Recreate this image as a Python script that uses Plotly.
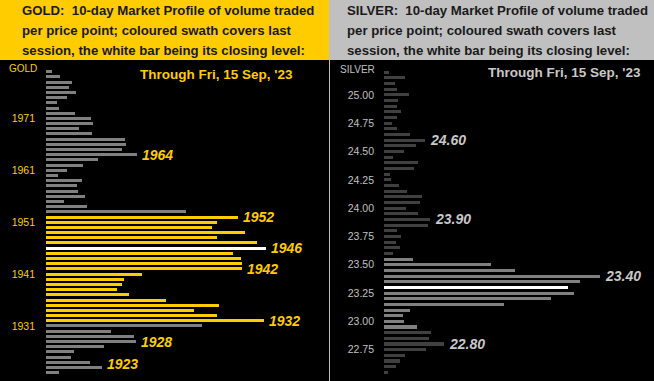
import plotly.graph_objects as go

W, H = 654, 381

# ---------------- data ----------------
gold_prices = [1980, 1979, 1978, 1977, 1976, 1975, 1974, 1973, 1972, 1971,
               1970, 1969, 1968, 1967, 1966, 1965, 1964, 1963, 1962, 1961,
               1960, 1959, 1958, 1957, 1956, 1955, 1954, 1953, 1952, 1951,
               1950, 1949, 1948, 1947, 1946, 1945, 1944, 1943, 1942, 1941,
               1940, 1939, 1938, 1937, 1936, 1935, 1934, 1933, 1932, 1931,
               1930, 1929, 1928, 1927, 1926, 1925, 1924, 1923, 1922]
gold_volume = [6, 14, 26, 23, 30, 21, 11, 13, 29, 45,
               47, 33, 46, 79, 80, 76, 91, 52, 37, 21,
               12, 36, 31, 32, 39, 18, 41, 140, 192, 171,
               166, 199, 171, 211, 220, 187, 195, 196, 196, 96,
               78, 76, 71, 83, 120, 173, 148, 171, 218, 156,
               65, 88, 90, 58, 28, 25, 44, 56, 13]
gold_swath = [1932, 1952]
gold_close = 1946
gold_labels = [1964, 1952, 1946, 1942, 1932, 1928, 1923]
gold_ticks = [1931, 1941, 1951, 1961, 1971]

silver_prices = [25.20, 25.15, 25.10, 25.05, 25.00, 24.95, 24.90, 24.85, 24.80, 24.75,
                 24.70, 24.65, 24.60, 24.55, 24.50, 24.45, 24.40, 24.35, 24.30, 24.25,
                 24.20, 24.15, 24.10, 24.05, 24.00, 23.95, 23.90, 23.85, 23.80, 23.75,
                 23.70, 23.65, 23.60, 23.55, 23.50, 23.45, 23.40, 23.35, 23.30, 23.25,
                 23.20, 23.15, 23.10, 23.05, 23.00, 22.95, 22.90, 22.85, 22.80, 22.75,
                 22.70, 22.65, 22.60, 22.55]
silver_volume = [5, 21, 11, 13, 25, 14, 13, 17, 13, 8,
                 13, 26, 41, 32, 20, 9, 34, 30, 6, 7,
                 15, 23, 38, 36, 22, 34, 46, 44, 13, 17,
                 12, 16, 9, 29, 107, 131, 216, 196, 184, 190,
                 167, 120, 26, 19, 20, 33, 47, 45, 60, 42,
                 21, 16, 12, 4]
silver_swath = [22.95, 23.55]
silver_close = 23.30
silver_labels = [24.60, 23.90, 23.40, 22.80]
silver_ticks = [22.75, 23.00, 23.25, 23.50, 23.75, 24.00, 24.25, 24.50, 24.75, 25.00]

header_gold = ["GOLD:\u00a0 10-day Market Profile of volume traded",
               "per price point; coloured swath covers last",
               "session, the white bar being its closing level:"]
header_silver = ["SILVER:\u00a0 10-day Market Profile of volume traded",
                 "per price point; coloured swath covers last",
                 "session, the white bar being its closing level:"]
through_text = "Through Fri, 15 Sep, '23"

# ---------------- styles ----------------
YELLOW = "#FFCC00"
GREY = "#808080"
DARK = "#404040"
SILVER_HDR = "#C0C0C0"
SILVER_TXT = "#C8C8C8"
FONT = "Liberation Sans, Arial, sans-serif"


def px_x(px):
    return px / W


def px_y(px):
    return 1 - px / H


def colours(prices, swath, close, swath_col, other_col):
    out = []
    for p in prices:
        if abs(p - close) < 1e-9:
            out.append("#FFFFFF")
        elif swath[0] - 1e-9 <= p <= swath[1] + 1e-9:
            out.append(swath_col)
        else:
            out.append(other_col)
    return out


fig = go.Figure()
fig.add_trace(go.Bar(y=gold_prices, x=gold_volume, orientation="h",
                     marker=dict(color=colours(gold_prices, gold_swath, gold_close, YELLOW, GREY),
                                 line=dict(width=0)),
                     width=0.58, xaxis="x", yaxis="y", showlegend=False,
                     hoverinfo="skip"))
fig.add_trace(go.Bar(y=silver_prices, x=silver_volume, orientation="h",
                     marker=dict(color=colours(silver_prices, silver_swath, silver_close, GREY, DARK),
                                 line=dict(width=0)),
                     width=0.027, xaxis="x2", yaxis="y2", showlegend=False,
                     hoverinfo="skip"))

ydom = [px_y(380), px_y(62)]
axis_common = dict(showgrid=False, zeroline=False, showline=False, fixedrange=True)

fig.update_layout(
    width=W, height=H,
    margin=dict(l=0, r=0, t=0, b=0),
    paper_bgcolor="black", plot_bgcolor="black",
    bargap=0,
    xaxis=dict(domain=[px_x(46), px_x(325)], range=[0, 279], showticklabels=False, **axis_common),
    yaxis=dict(domain=ydom, range=[1920.59, 1981.87], tickvals=gold_ticks,
               ticktext=[str(t) for t in gold_ticks], ticks="", ticklabelstandoff=10,
               tickfont=dict(family=FONT, size=10.5, color=YELLOW), anchor="x", **axis_common),
    xaxis2=dict(domain=[px_x(384), px_x(650)], range=[0, 266], showticklabels=False,
                anchor="y2", **axis_common),
    yaxis2=dict(domain=ydom, range=[22.482, 25.291], tickvals=silver_ticks,
                ticktext=[f"{t:.2f}" for t in silver_ticks], ticks="", ticklabelstandoff=9,
                tickfont=dict(family=FONT, size=10.5, color=SILVER_HDR), anchor="x2", **axis_common),
)

shapes = [
    dict(type="rect", xref="paper", yref="paper", x0=0, x1=px_x(329), y0=px_y(60), y1=1,
         fillcolor=YELLOW, line=dict(width=0), layer="below"),
    dict(type="rect", xref="paper", yref="paper", x0=px_x(329), x1=1, y0=px_y(60), y1=1,
         fillcolor=SILVER_HDR, line=dict(width=0), layer="below"),
    dict(type="line", xref="paper", yref="paper", x0=px_x(329.5), x1=px_x(329.5),
         y0=0, y1=px_y(60), line=dict(color=SILVER_HDR, width=1)),
]
fig.update_layout(shapes=shapes)

ann = []
for i, line in enumerate(header_gold):
    ann.append(dict(text=f"<b>{line}</b>", xref="paper", yref="paper", x=px_x(20), y=px_y(10.5 + 20 * i),
                    xanchor="left", yanchor="middle", showarrow=False,
                    font=dict(family=FONT, size=13.2, color="#1a1a1a")))
for i, line in enumerate(header_silver):
    ann.append(dict(text=f"<b>{line}</b>", xref="paper", yref="paper", x=px_x(345), y=px_y(10.5 + 20 * i),
                    xanchor="left", yanchor="middle", showarrow=False,
                    font=dict(family=FONT, size=13.2, color="#1a1a1a")))
ann.append(dict(text=f"<b>{through_text}</b>", xref="paper", yref="paper", x=px_x(295), y=px_y(74),
                xanchor="right", yanchor="middle", showarrow=False,
                font=dict(family=FONT, size=13.5, color=YELLOW)))
ann.append(dict(text=f"<b>{through_text}</b>", xref="paper", yref="paper", x=px_x(643), y=px_y(73),
                xanchor="right", yanchor="middle", showarrow=False,
                font=dict(family=FONT, size=13.5, color=SILVER_TXT)))
ann.append(dict(text="GOLD", xref="paper", yref="paper", x=px_x(7), y=px_y(68),
                xanchor="left", yanchor="middle", showarrow=False,
                font=dict(family=FONT, size=10, color=YELLOW)))
ann.append(dict(text="SILVER", xref="paper", yref="paper", x=px_x(338), y=px_y(69),
                xanchor="left", yanchor="middle", showarrow=False,
                font=dict(family=FONT, size=10, color=SILVER_HDR)))

gmap = dict(zip(gold_prices, gold_volume))
for p in gold_labels:
    ann.append(dict(text=f"<b><i>{p}</i></b>", xref="x", yref="y", x=gmap[p], y=p,
                    xanchor="left", yanchor="middle", xshift=3,
                    yshift=3 if p == gold_labels[-1] else 0, showarrow=False,
                    font=dict(family=FONT, size=14, color=YELLOW)))
smap = {round(p, 2): v for p, v in zip(silver_prices, silver_volume)}
for p in silver_labels:
    ann.append(dict(text=f"<b><i>{p:.2f}</i></b>", xref="x2", yref="y2", x=smap[round(p, 2)], y=p,
                    xanchor="left", yanchor="middle", xshift=3, showarrow=False,
                    font=dict(family=FONT, size=14, color=SILVER_TXT)))
fig.update_layout(annotations=ann)

fig.write_html("out.html", config={"displayModeBar": False},
               post_script="document.body.style.margin='0';document.body.style.overflow='hidden';")
